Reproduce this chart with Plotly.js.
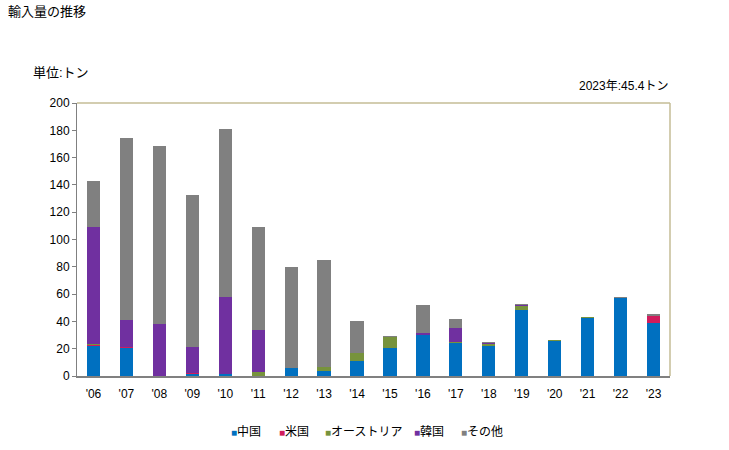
<!DOCTYPE html>
<html>
<head>
<meta charset="utf-8">
<script src="https://cdn.plot.ly/plotly-3.0.1.min.js"></script>
<style>
  body { margin: 0; background: #fff; }
  #chart { width: 729px; height: 450px; }
</style>
</head>
<body>
<div id="chart"></div>
<script>
// 輸入量の推移 (単位: トン)
const years = ["'06","'07","'08","'09","'10","'11","'12","'13","'14","'15","'16","'17","'18","'19","'20","'21","'22","'23"];

const china     = [22.2, 20.8, 0,    1.5, 1.7,  0,    6.1, 3.7,  11.0, 20.8, 30.0, 24.2, 22.2, 48.4, 25.6, 42.7, 57.1, 38.6];
const usa       = [0.3,  0.5,  0,    0.5, 0,    0,    0,   0,    0,    0,    0,    0,    0,    0,    0,    0,    0,    5.1];
const australia = [0.8,  0,    0,    0,   0,    2.9,  0,   2.7,  5.6,  7.8,  0,    1.0,  1.5,  2.9,  0.8,  0.5,  0,    0];
const korea     = [86.0, 19.8, 38.1, 19.3, 56.2, 30.8, 0,  0,    0,    0,    1.5,  10.0, 0.7,  1.0,  0,    0,    0,    0];
const others    = [33.7, 133.5, 130.6, 111.5, 123.3, 75.6, 73.9, 78.7, 23.7, 0.7, 20.8, 6.6, 0.8, 0.7, 0, 0, 0.8, 1.7];

const seriesNames  = ["中国", "米国", "オーストリア", "韓国", "その他"];
const seriesValues = [china, usa, australia, korea, others];
const seriesColors = ["#0070c0", "#d01c5c", "#77933c", "#7030a0", "#808080"];

const fontFamily = "Liberation Sans, Noto Sans CJK JP, sans-serif";

const data = seriesNames.map((name, i) => ({
    x: years,
    y: seriesValues[i],
    type: 'bar',
    name: name,
    marker: { color: seriesColors[i] },
    showlegend: false
}));

// compact legend (small square + label), left edges in paper coords
const legendX = [0.2563, 0.3373, 0.4148, 0.5649, 0.6442];
const legendItems = seriesNames.map((name, i) => ({
    text: '<span style="color:' + seriesColors[i] + ';font-size:10px">■</span>' + name,
    xref: 'paper', yref: 'paper',
    x: legendX[i], y: -0.205,
    xanchor: 'left', yanchor: 'middle',
    showarrow: false,
    font: { size: 12 }
}));

const layout = {
    width: 729,
    height: 450,
    barmode: 'stack',
    bargap: 0.6,
    margin: { l: 77, r: 59, t: 103, b: 74, autoexpand: false },
    paper_bgcolor: '#ffffff',
    plot_bgcolor: '#ffffff',
    font: { family: fontFamily, size: 12, color: '#000' },
    showlegend: false,
    xaxis: {
        type: 'category',
        showgrid: false,
        showline: true,
        linecolor: '#808080',
        linewidth: 2,
        ticks: 'outside',
        ticklen: 6,
        tickcolor: 'rgba(0,0,0,0)',
        tickfont: { size: 12 },
        fixedrange: true
    },
    yaxis: {
        range: [0, 200],
        dtick: 20,
        showgrid: false,
        showline: true,
        linecolor: '#808080',
        linewidth: 1,
        ticks: 'outside',
        ticklen: 4,
        tickcolor: '#808080',
        tickfont: { size: 12 },
        zeroline: false,
        fixedrange: true
    },
    shapes: [
        // top and right border of the plot area
        { type: 'line', xref: 'paper', yref: 'paper', x0: 0, x1: 1, y0: 1, y1: 1,
          line: { color: '#c4bc96', width: 1.5 } },
        { type: 'line', xref: 'paper', yref: 'paper', x0: 1, x1: 1, y0: 0, y1: 1,
          line: { color: '#c4bc96', width: 1.5 } }
    ],
    annotations: [
        { text: '輸入量の推移', xref: 'paper', yref: 'paper', x: -0.12, y: 1.335,
          xanchor: 'left', yanchor: 'middle', showarrow: false, font: { size: 13 } },
        { text: '単位:トン', xref: 'paper', yref: 'paper', x: -0.078, y: 1.11,
          xanchor: 'left', yanchor: 'middle', showarrow: false, font: { size: 13 } },
        { text: '2023年:45.4トン', xref: 'paper', yref: 'paper', x: 1, y: 1.063,
          xanchor: 'right', yanchor: 'middle', showarrow: false, font: { size: 12 } }
    ].concat(legendItems)
};

Plotly.newPlot('chart', data, layout, { displayModeBar: false, staticPlot: true });
</script>
</body>
</html>
